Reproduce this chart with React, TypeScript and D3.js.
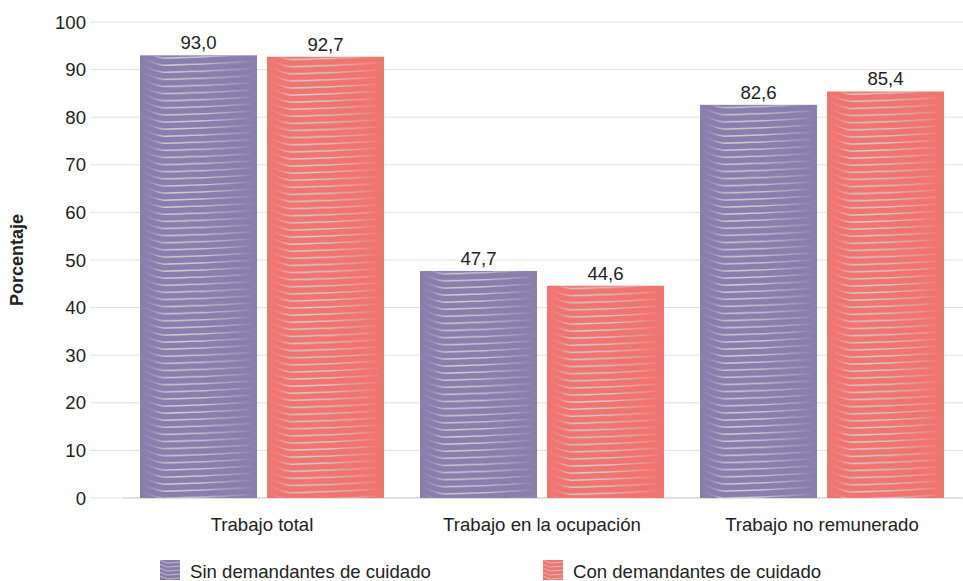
import React from "react";
import * as d3 from "d3";

const categories = ["Trabajo total", "Trabajo en la ocupación", "Trabajo no remunerado"];
const seriesNames = ["Sin demandantes de cuidado", "Con demandantes de cuidado"];
const sinValues = [93.0, 47.7, 82.6];
const conValues = [92.7, 44.6, 85.4];
const yTicks = [0, 10, 20, 30, 40, 50, 60, 70, 80, 90, 100];
const colors = ["#8a7eae", "#f07570"];

const W = 963;
const H = 581;
const FONT = "Liberation Sans, Arial, sans-serif";
const FS = 18.6;

export default function App() {
  const seriesValues = [sinValues, conValues];
  const y = d3.scaleLinear().domain([0, 100]).range([498, 22]);
  const x0 = d3.scaleBand<string>().domain(categories).range([122, 962]).padding(0);
  const x1 = d3
    .scaleBand<string>()
    .domain(seriesNames)
    .range([18, 262])
    .paddingInner(10 / 127)
    .paddingOuter(0);
  const bw = x1.bandwidth();
  const period = 7.1;
  const fmt = (v: number) => v.toFixed(1).replace(".", ",");

  const linePath = (oy: number) =>
    `M3,${oy} C9,${oy + 2.5} 14,${oy + 6} 24,${oy + 6.8} C50,${oy + 6.4} 80,${oy + 5} ${bw - 6},${oy + 3.2}`;

  const bars: any[] = [];
  categories.forEach((c, i) => {
    seriesNames.forEach((s, j) => {
      const v = seriesValues[j][i];
      bars.push({
        id: `p${i}${j}`,
        x: (x0(c) as number) + (x1(s) as number),
        y: y(v),
        h: y(0) - y(v),
        v,
        color: colors[j],
      });
    });
  });

  return (
    <svg width={W} height={H} style={{ position: "absolute", left: 0, top: 0 }}>
      <defs>
        <linearGradient id="lg" x1="0" x2="1" y1="0" y2="0">
          <stop offset="0" stopColor="#d0d0d0" stopOpacity="0" />
          <stop offset="0.1" stopColor="#d0d0d0" stopOpacity="0.35" />
          <stop offset="0.22" stopColor="#d0d0d0" stopOpacity="1" />
          <stop offset="0.6" stopColor="#d0d0d0" stopOpacity="0.9" />
          <stop offset="1" stopColor="#d0d0d0" stopOpacity="0.1" />
        </linearGradient>
        {bars.map((b) => (
          <pattern
            key={b.id}
            id={b.id}
            patternUnits="userSpaceOnUse"
            x={b.x}
            y={b.y}
            width={bw}
            height={period}
          >
            {[-2, -1, 0, 1].map((k) => (
              <path
                key={k}
                d={linePath(k * period - 4)}
                fill="none"
                stroke="url(#lg)"
                strokeWidth={1.3}
              />
            ))}
          </pattern>
        ))}
        {[160, 543].map((lx, j) => (
          <pattern key={j} id={`legp${j}`} patternUnits="userSpaceOnUse" x={lx} y={560} width={22} height={4}>
            <path d="M0,0 C3,1 5,3 8,3 L22,2" fill="none" stroke="#d0d0d0" strokeOpacity={0.7} strokeWidth={1} />
          </pattern>
        ))}
      </defs>

      {yTicks.map((t) => (
        <g key={t}>
          <line x1={90} x2={963} y1={y(t)} y2={y(t)} stroke="#e2e2e2" strokeWidth={1} />
          <text
            x={86}
            y={y(t)}
            dy="0.35em"
            textAnchor="end"
            fontFamily={FONT}
            fontSize={FS}
            fill="#222"
          >
            {t}
          </text>
        </g>
      ))}
      <line x1={122} x2={962} y1={y(0)} y2={y(0)} stroke="#cfcfcf" strokeWidth={1} />

      {bars.map((b) => (
        <g key={b.id}>
          <rect x={b.x} y={b.y} width={bw} height={b.h} fill={b.color} />
          <rect x={b.x} y={b.y} width={bw} height={b.h} fill={`url(#${b.id})`} />
          <text
            x={b.x + bw / 2}
            y={b.y - 6}
            textAnchor="middle"
            fontFamily={FONT}
            fontSize={FS}
            fill="#222"
          >
            {fmt(b.v)}
          </text>
        </g>
      ))}

      {categories.map((c) => (
        <text
          key={c}
          x={(x0(c) as number) + x0.bandwidth() / 2}
          y={531}
          textAnchor="middle"
          fontFamily={FONT}
          fontSize={FS}
          fill="#222"
        >
          {c}
        </text>
      ))}

      <text
        transform={`translate(23,${(y(0) + y(100)) / 2}) rotate(-90)`}
        textAnchor="middle"
        fontFamily={FONT}
        fontSize={18}
        fontWeight="bold"
        fill="#222"
      >
        Porcentaje
      </text>

      {seriesNames.map((s, j) => {
        const lx = j === 0 ? 160 : 543;
        return (
          <g key={s}>
            <rect x={lx} y={560} width={20} height={20} fill={colors[j]} />
            <rect x={lx} y={560} width={20} height={20} fill={`url(#legp${j})`} />
            <text x={lx + 30} y={578} fontFamily={FONT} fontSize={FS} fill="#222">
              {s}
            </text>
          </g>
        );
      })}
    </svg>
  );
}
